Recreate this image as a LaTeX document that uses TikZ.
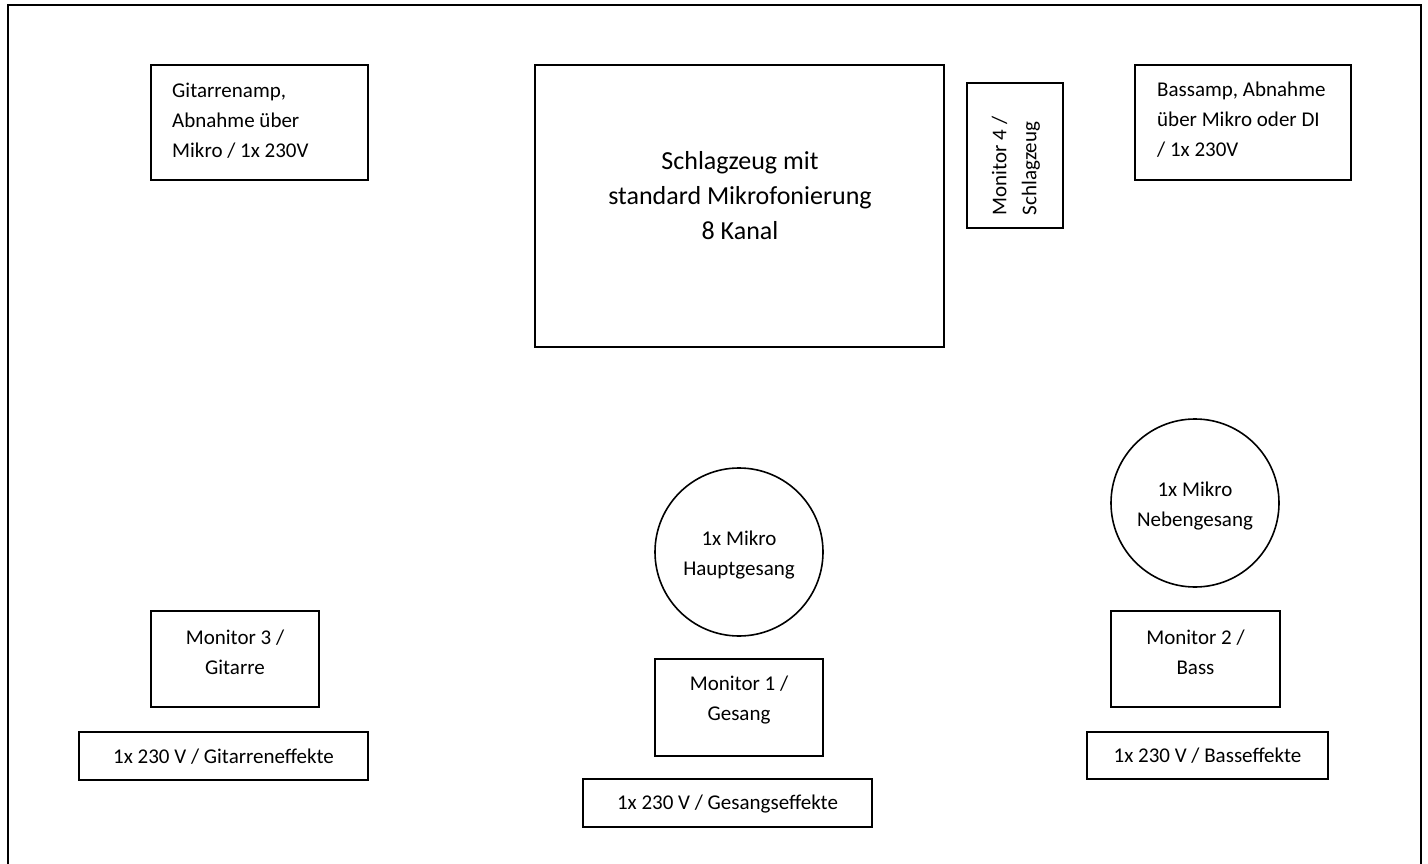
\documentclass[tikz,border=0pt]{standalone}
\usepackage{fontspec}
\setmainfont{Carlito}
\begin{document}
\begin{tikzpicture}[x=1pt,y=-1pt,
  box/.style={draw, line width=1.6pt, inner sep=0pt},
  circ/.style={draw, circle, line width=1.6pt, inner sep=0pt, minimum size=168pt},
  txt/.style={font=\fontsize{21}{30}\selectfont, align=center, inner sep=0pt},
  bigtxt/.style={font=\fontsize{26}{35}\selectfont, align=center, inner sep=0pt}]
\useasboundingbox (0,0) rectangle (1428,864);
\fill[white] (0,0) rectangle (1428,864);
% outer frame (bottom edge lies outside the picture)
\draw[line width=1.6pt] (8,880) -- (8,5) -- (1421,5) -- (1421,880);

% boxes
\node[box, minimum width=217pt, minimum height=115pt] (gamp) at (259.5,122.5) {};
\node[box, minimum width=409pt, minimum height=282pt] (drums) at (739.5,206) {};
\node[box, minimum width=96pt, minimum height=145pt] (mon4) at (1015,155.5) {};
\node[box, minimum width=216pt, minimum height=115pt] (bamp) at (1243,122.5) {};
\node[circ] (mic1) at (739,552) {};
\node[circ] (mic2) at (1195,503) {};
\node[box, minimum width=168pt, minimum height=96pt] (mon3) at (235,659) {};
\node[box, minimum width=168pt, minimum height=97pt] (mon1) at (739,707.5) {};
\node[box, minimum width=169pt, minimum height=96pt] (mon2) at (1195.5,659) {};
\node[box, minimum width=289pt, minimum height=48pt] (fx3) at (223.5,756) {};
\node[box, minimum width=289pt, minimum height=48pt] (fx1) at (727.5,803) {};
\node[box, minimum width=241pt, minimum height=47pt] (fx2) at (1207.5,755.5) {};

% texts
\node[txt, align=left, anchor=west] (tgamp) at (172,121) {Gitarrenamp,\\Abnahme über\\Mikro / 1x 230V};
\node[bigtxt] (tdrums) at (740,196) {Schlagzeug mit\\standard Mikrofonierung\\8 Kanal};
\node[txt, align=left, rotate=90] (tmon4) at (1016,166) {Monitor 4 /\\Schlagzeug};
\node[txt, align=left, anchor=west] (tbamp) at (1157,120) {Bassamp, Abnahme\\über Mikro oder DI\\/ 1x 230V};
\node[txt] (tmic1) at (739,555) {1x Mikro\\Hauptgesang};
\node[txt] (tmic2) at (1195,506) {1x Mikro\\Nebengesang};
\node[txt] (tmon3) at (235,652) {Monitor 3 /\\Gitarre};
\node[txt] (tmon1) at (739,700) {Monitor 1 /\\Gesang};
\node[txt] (tmon2) at (1195.5,652) {Monitor 2 /\\Bass};
\node[txt] (tfx3) at (223.5,757) {1x 230 V / Gitarreneffekte};
\node[txt] (tfx1) at (727.5,804) {1x 230 V / Gesangseffekte};
\node[txt] (tfx2) at (1207.5,756) {1x 230 V / Basseffekte};
\end{tikzpicture}
\end{document}
